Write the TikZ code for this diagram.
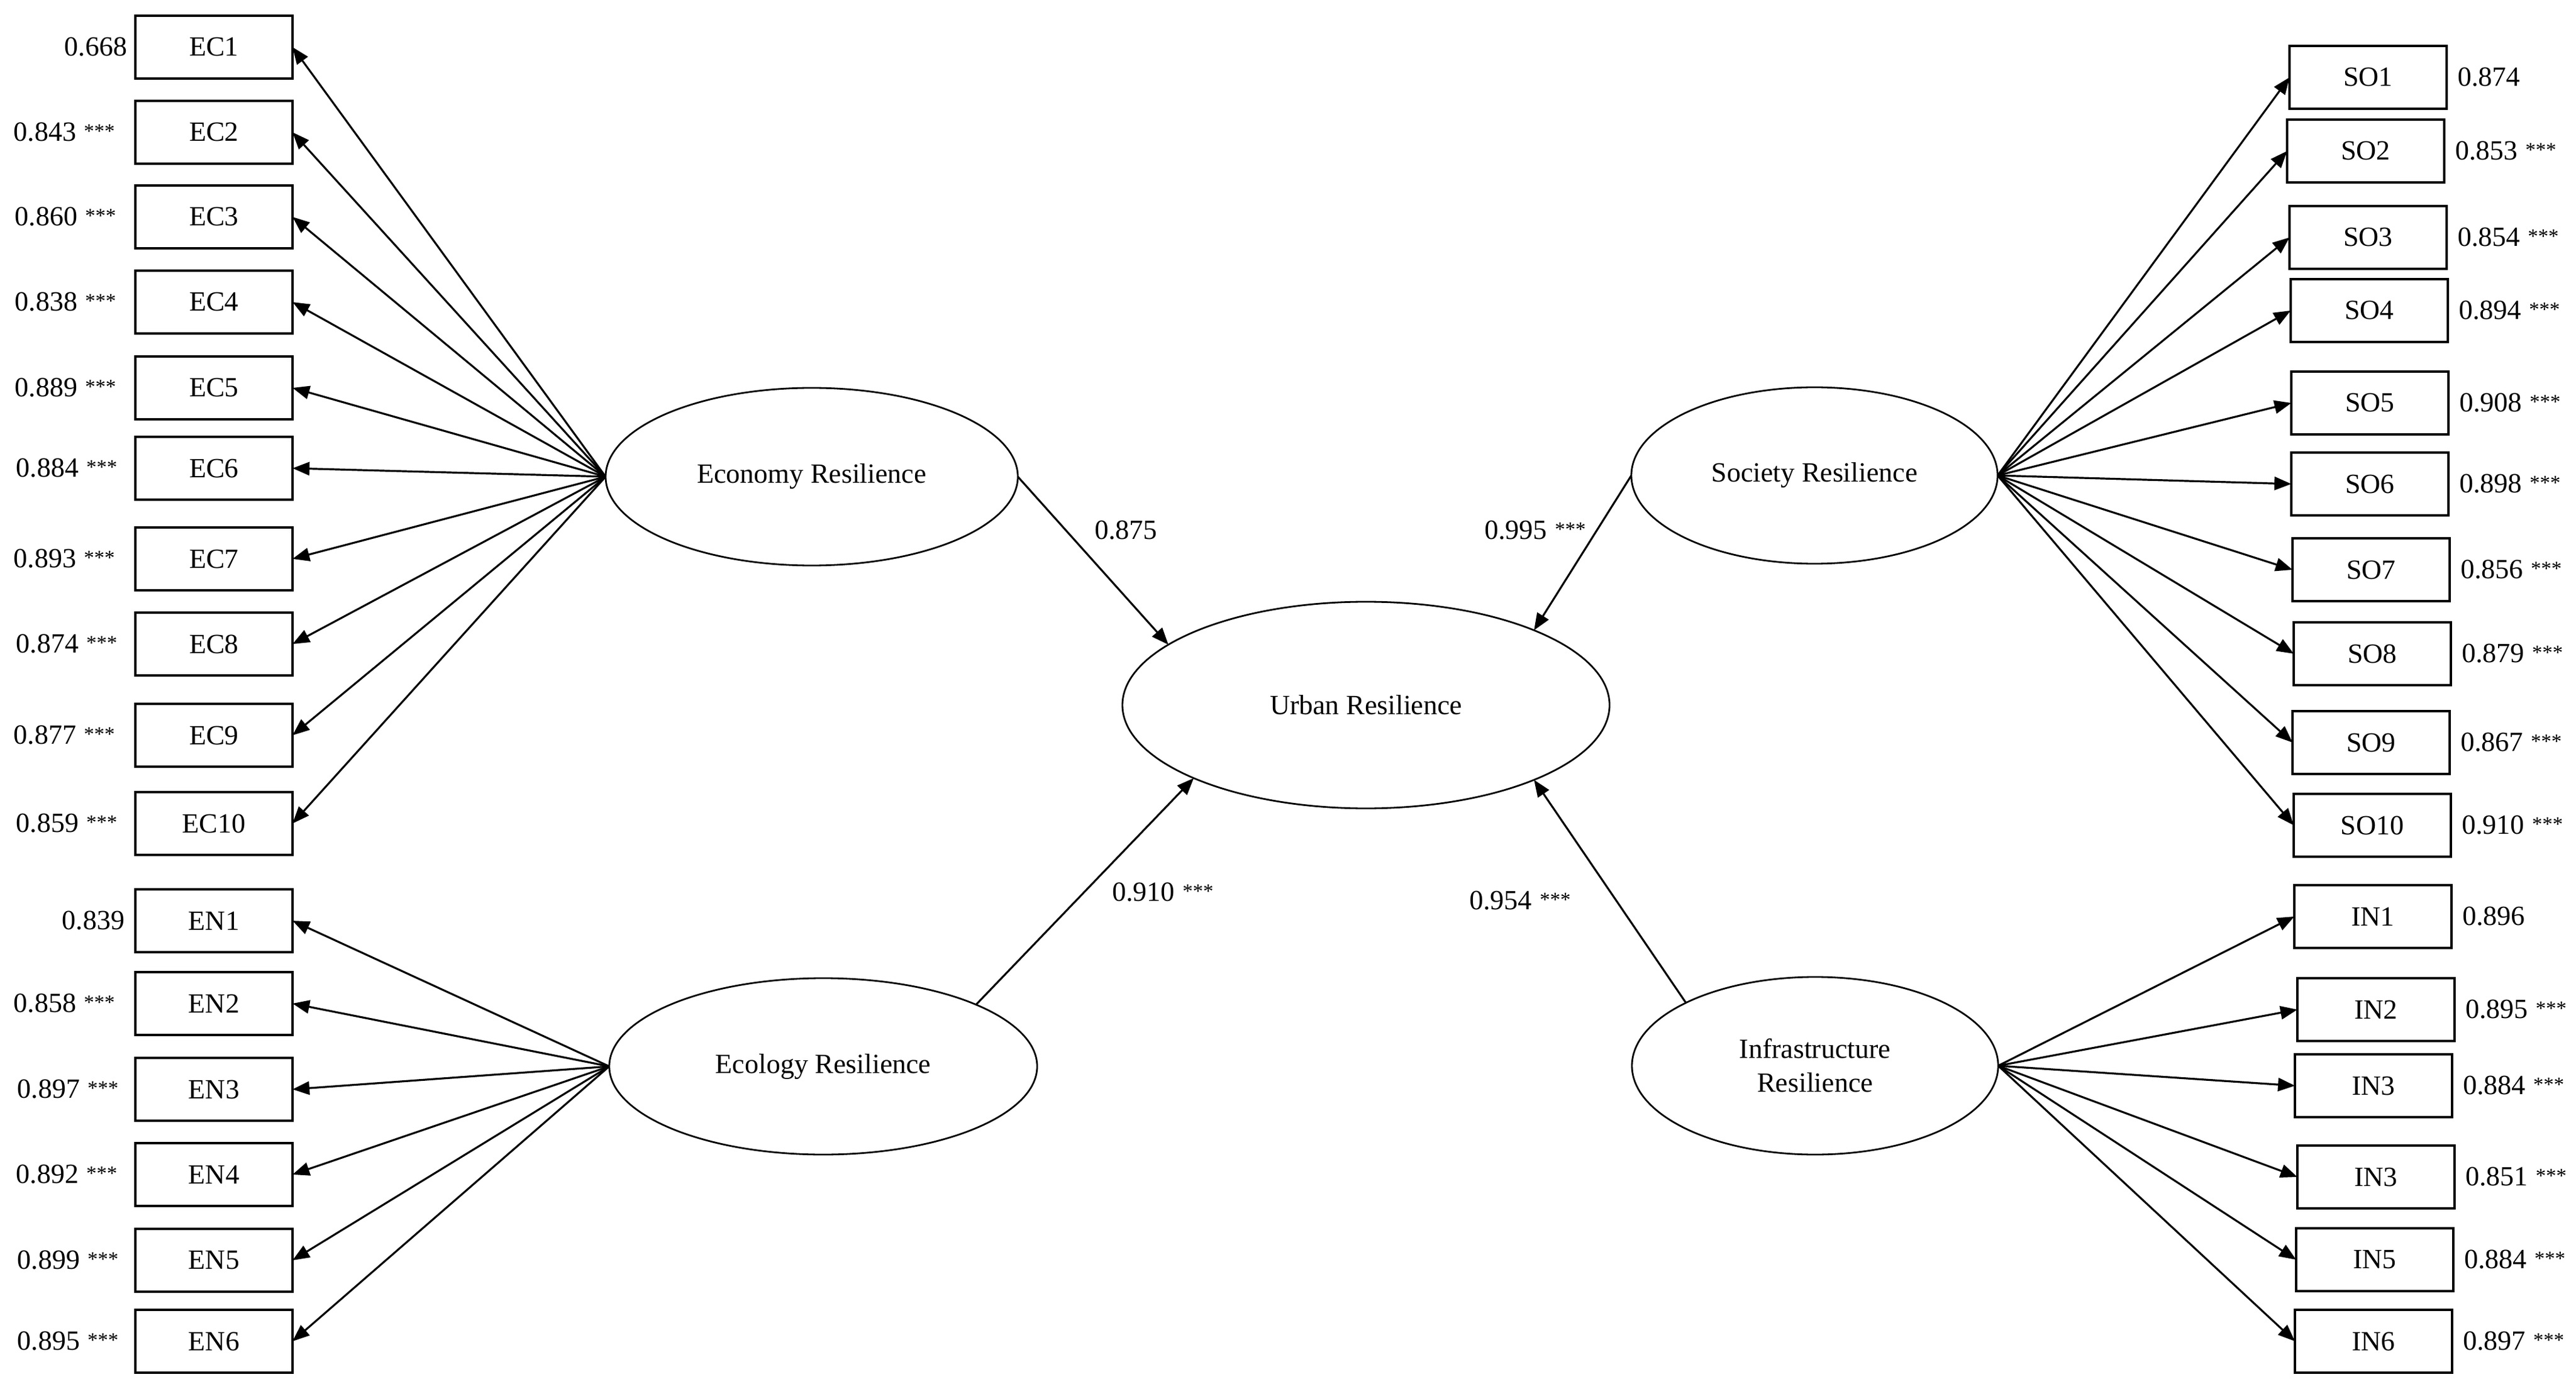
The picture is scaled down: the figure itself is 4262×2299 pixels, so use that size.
\documentclass[tikz,border=0pt]{standalone}
\usepackage{fontspec}
\setmainfont{Liberation Serif}
\usetikzlibrary{arrows.meta,shapes.geometric,positioning}
\newcommand{\mystars}{\hspace{3.2pt}{\fontsize{8.5}{10}\selectfont\raisebox{1.3pt}{***}}}
\begin{document}
\begin{tikzpicture}[x=0.25pt,y=-0.25pt,
  font=\fontsize{11.5}{14}\selectfont,
  ind/.style={draw, line width=1pt, rectangle, minimum width=65pt, minimum height=26pt, inner sep=0pt, outer sep=0pt},
  lat/.style={draw, ellipse, line width=0.7pt, inner sep=0pt, outer sep=0pt, align=center},
  load/.style={-{Triangle[length=7pt,width=5.5pt]}, line width=0.8pt},
  val/.style={inner sep=0pt, outer sep=0pt}]
\useasboundingbox (0,0) rectangle (4262,2299);

% latent variables
\node[lat, minimum width=170.5pt, minimum height=73.5pt] (eco) at (1343,789) {Economy Resilience};
\node[lat, minimum width=201.5pt, minimum height=85.5pt] (urb) at (2260,1167) {Urban Resilience};
\node[lat, minimum width=177pt, minimum height=73pt] (ecl) at (1362,1765) {Ecology Resilience};
\node[lat, minimum width=151.5pt, minimum height=73pt] (soc) at (3002,787) {Society Resilience};
\node[lat, minimum width=151.5pt, minimum height=73.5pt] (inf) at (3003,1764) {Infrastructure\\Resilience};

% economy indicators
\foreach \n/\y/\v/\g in {1/78/{0.668}/3.5pt, 2/219/{0.843\mystars}/8.5pt, 3/359/{0.860\mystars}/8pt,
  4/500/{0.838\mystars}/8pt, 5/642/{0.889\mystars}/8pt, 6/775/{0.884\mystars}/7.5pt, 7/925/{0.893\mystars}/8.5pt,
  8/1066/{0.874\mystars}/7.5pt, 9/1217/{0.877\mystars}/8.5pt, 10/1363/{0.859\mystars}/7.5pt}{
  \node[ind] (EC\n) at (354,\y) {EC\n};
  \node[val, left=\g of EC\n] (lEC\n) {\v};
  \draw[load] (eco.west) -- (EC\n.east);
}

% ecology indicators
\foreach \n/\y/\v/\g in {1/1524/{0.839}/4.5pt, 2/1661/{0.858\mystars}/8.5pt, 3/1803/{0.897\mystars}/7pt,
  4/1944/{0.892\mystars}/7.5pt, 5/2086/{0.899\mystars}/7pt, 6/2220/{0.895\mystars}/7pt}{
  \node[ind] (EN\n) at (354,\y) {EN\n};
  \node[val, left=\g of EN\n] (lEN\n) {\v};
  \draw[load] (ecl.west) -- (EN\n.east);
}

% society indicators
\foreach \n/\x/\y/\v in {1/3918/128/{0.874}, 2/3914/250/{0.853\mystars}, 3/3918/393/{0.854\mystars},
  4/3920/514/{0.894\mystars}, 5/3921/667/{0.908\mystars}, 6/3921/801/{0.898\mystars}, 7/3923/943/{0.856\mystars},
  8/3925/1082/{0.879\mystars}, 9/3923/1229/{0.867\mystars}, 10/3925/1366/{0.910\mystars}}{
  \node[ind] (SO\n) at (\x,\y) {SO\n};
  \node[val, right=4.5pt of SO\n] (lSO\n) {\v};
  \draw[load] (soc.east) -- (SO\n.west);
}

% infrastructure indicators
\foreach \n/\t/\x/\y/\v in {1/IN1/3926/1517/{0.896}, 2/IN2/3931/1671/{0.895\mystars}, 3/IN3/3927/1797/{0.884\mystars},
  4/IN3/3931/1948/{0.851\mystars}, 5/IN5/3929/2085/{0.884\mystars}, 6/IN6/3927/2220/{0.897\mystars}}{
  \node[ind] (IN\n) at (\x,\y) {\t};
  \node[val, right=4.5pt of IN\n] (lIN\n) {\v};
  \draw[load] (inf.east) -- (IN\n.west);
}

% structural paths
\draw[load] (eco.east) -- (urb.163.4);
\draw[load] (soc.west) -- (urb.24.2);
\draw[load] (ecl.22.3) -- (urb.203.7);
\draw[load] (inf.154.3) -- (urb.336);

\node[val] (p1) at (1863,878) {0.875};
\node[val] (p2) at (2540,878) {0.995\mystars};
\node[val] (p3) at (1924,1477) {0.910\mystars};
\node[val] (p4) at (2515,1491) {0.954\mystars};
\end{tikzpicture}
\end{document}
